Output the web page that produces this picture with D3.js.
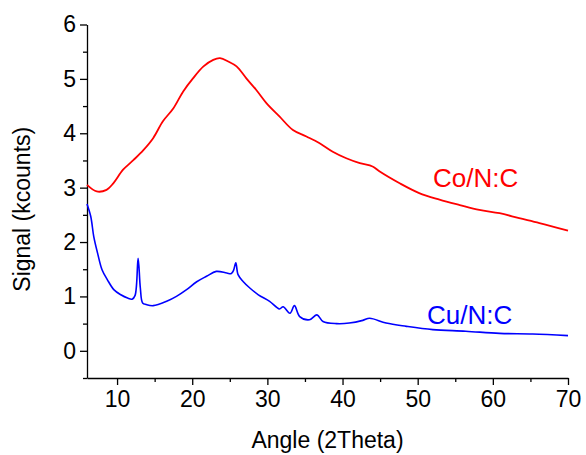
<!DOCTYPE html>
<html>
<head>
<meta charset="utf-8">
<script src="https://cdn.jsdelivr.net/npm/d3@7"></script>
<style>
	body { margin: 0; background: #fff; }
	svg text { font-family: Arial, "Liberation Sans", sans-serif; }
</style>
</head>
<body>
<div id="chart"></div>
<script>

// Co/N:C trace
var coAngle  = [6.0, 7.3, 8.6, 9.5, 10.8, 12.2, 13.5, 14.8, 16.1, 17.5, 18.8, 20.1, 21.5, 22.8, 23.7, 24.8, 25.9, 27.2, 28.5, 29.9, 31.6, 33.4, 35.2, 36.9, 38.7, 40.5, 42.3, 44.0, 44.9, 47.6, 50.2, 52.9, 55.6, 58.2, 60.9, 63.5, 66.2, 70.0];
var coSignal = [3.05, 2.93, 2.96, 3.08, 3.33, 3.51, 3.69, 3.91, 4.22, 4.46, 4.77, 5.01, 5.23, 5.35, 5.38, 5.32, 5.23, 5.01, 4.80, 4.55, 4.31, 4.06, 3.94, 3.82, 3.66, 3.54, 3.45, 3.39, 3.30, 3.08, 2.90, 2.78, 2.68, 2.59, 2.53, 2.44, 2.35, 2.21];

// Cu/N:C trace
var cuAngle  = [6.0, 6.5, 6.9, 7.4, 8.0, 8.7, 9.6, 10.5, 11.4, 12.0, 12.4, 12.8, 13.1, 13.4, 13.9, 14.8, 16.6, 17.9, 19.2, 20.6, 21.9, 23.2, 24.6, 25.2, 25.5, 25.8, 26.1, 26.8, 27.7, 28.8, 30.3, 31.6, 32.1, 33.0, 33.6, 34.3, 35.6, 36.6, 37.4, 39.2, 40.9, 42.7, 43.6, 45.8, 48.5, 52.0, 56.4, 60.9, 65.3, 70.0];
var cuSignal = [2.70, 2.47, 2.10, 1.80, 1.49, 1.31, 1.12, 1.03, 0.97, 0.95, 1.02, 1.70, 1.15, 0.88, 0.85, 0.83, 0.91, 1.00, 1.12, 1.27, 1.37, 1.46, 1.43, 1.42, 1.48, 1.62, 1.40, 1.27, 1.15, 1.03, 0.91, 0.77, 0.81, 0.69, 0.83, 0.63, 0.57, 0.66, 0.54, 0.50, 0.51, 0.56, 0.60, 0.51, 0.45, 0.39, 0.36, 0.32, 0.31, 0.28];

var xTicks = [10, 20, 30, 40, 50, 60, 70];
var xMinor = [15, 25, 35, 45, 55, 65];
var yTicks = [0, 1, 2, 3, 4, 5, 6];
var yMinor = [-0.5, 0.5, 1.5, 2.5, 3.5, 4.5, 5.5];

var seriesNames = ['Co/N:C', 'Cu/N:C'];


var width = 586, height = 455;

var svg = d3.select('#chart').append('svg')
	.attr('width', width)
	.attr('height', height);

var x = d3.scaleLinear().domain([6, 70]).range([87, 568]);
var y = d3.scaleLinear().domain([-0.5, 6]).range([378, 24.5]);


// Axes: major ticks with labels, minor ones without
svg.append('g')
	.attr('transform', 'translate(0,' + y(-0.5) + ')')
	.call(d3.axisBottom(x).tickValues(xTicks).tickFormat(d3.format('d'))
		.tickSize(7).tickPadding(6).tickSizeOuter(0));

svg.append('g')
	.attr('transform', 'translate(0,' + y(-0.5) + ')')
	.call(d3.axisBottom(x).tickValues(xMinor).tickSize(4).tickFormat('').tickSizeOuter(0))
	.select('.domain').remove();

svg.append('g')
	.attr('transform', 'translate(' + x(6) + ',0)')
	.call(d3.axisLeft(y).tickValues(yTicks).tickFormat(d3.format('d'))
		.tickSize(7).tickPadding(4).tickSizeOuter(0));

svg.append('g')
	.attr('transform', 'translate(' + x(6) + ',0)')
	.call(d3.axisLeft(y).tickValues(yMinor).tickSize(4).tickFormat('').tickSizeOuter(0))
	.select('.domain').remove();

svg.selectAll('.domain, .tick line')
	.attr('stroke', '#000')
	.attr('stroke-width', 1.3);

svg.selectAll('.tick text')
	.attr('fill', '#000')
	.style('font-size', '23px')
	.style('font-family', 'Arial, "Liberation Sans", sans-serif');


// Axis titles
svg.append('text')
	.attr('x', (x(6) + x(70)) / 2)
	.attr('y', 448)
	.attr('text-anchor', 'middle')
	.style('font-size', '23px')
	.text('Angle (2Theta)');

svg.append('text')
	.attr('transform', 'translate(30,' + ((y(6) + y(-0.5)) / 2 + 8) + ') rotate(-90)')
	.attr('text-anchor', 'middle')
	.style('font-size', '23px')
	.text('Signal (kcounts)');


// Traces
var line = d3.line()
	.x((d) => x(d[0]))
	.y((d) => y(d[1]))
	.curve(d3.curveCatmullRom.alpha(0.5));

var series = [
	{ name: seriesNames[0], color: '#ff0000', pts: d3.zip(coAngle, coSignal), lx: 433, ly: 187, w: 1.8 },
	{ name: seriesNames[1], color: '#0000ff', pts: d3.zip(cuAngle, cuSignal), lx: 427, ly: 324, w: 1.6 }
];

svg.selectAll('path.trace')
	.data(series)
	.enter()
	.append('path')
	.attr('class', 'trace')
	.attr('fill', 'none')
	.attr('stroke', (d) => d.color)
	.attr('stroke-width', (d) => d.w)
	.attr('stroke-linejoin', 'round')
	.attr('d', (d) => line(d.pts));

svg.selectAll('text.label')
	.data(series)
	.enter()
	.append('text')
	.attr('class', 'label')
	.attr('x', (d) => d.lx)
	.attr('y', (d) => d.ly)
	.attr('fill', (d) => d.color)
	.style('font-size', '26px')
	.text((d) => d.name);

</script>
</body>
</html>
